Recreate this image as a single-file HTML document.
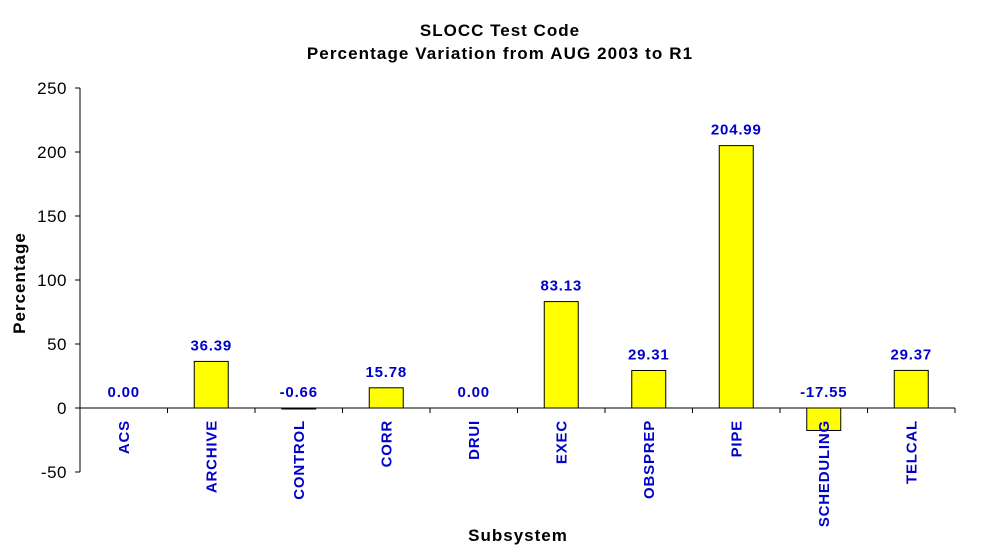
<!DOCTYPE html>
<html><head><meta charset="utf-8"><style>
body{margin:0;background:#fff;}
svg text{font-family:"Liberation Sans",Arial,sans-serif;}
</style></head><body>
<svg id="chart" width="1000" height="551" xmlns="http://www.w3.org/2000/svg">
<text x="500" y="36" text-anchor="middle" font-size="17" font-weight="bold" letter-spacing="1">SLOCC Test Code</text>
<text x="500" y="59" text-anchor="middle" font-size="17" font-weight="bold" letter-spacing="1.1">Percentage Variation from AUG 2003 to R1</text>
<text transform="translate(25,283) rotate(-90)" text-anchor="middle" font-size="17" font-weight="bold" letter-spacing="1">Percentage</text>
<text x="518" y="541" text-anchor="middle" font-size="17" font-weight="bold" letter-spacing="1">Subsystem</text>
<g id="plot"></g>
</svg>
<script>
const categories=["ACS","ARCHIVE","CONTROL","CORR","DRUI","EXEC","OBSPREP","PIPE","SCHEDULING","TELCAL"];
const values=[0.00,36.39,-0.66,15.78,0.00,83.13,29.31,204.99,-17.55,29.37];
const valueLabels=["0.00","36.39","-0.66","15.78","0.00","83.13","29.31","204.99","-17.55","29.37"];
const yTicks=[-50,0,50,100,150,200,250];
const NS="http://www.w3.org/2000/svg";
const X0=80,X1=955,Y0=408,PX_PER=64/50;
const bw=(X1-X0)/categories.length;
function y(v){return Y0-v*PX_PER;}
function x(i){return X0+bw*i;}
const g=document.getElementById('plot');
function mk(t,a){const e=document.createElementNS(NS,t);for(const k in a)e.setAttribute(k,a[k]);g.appendChild(e);return e;}
let ax=mk('line',{x1:X0,y1:y(250),x2:X0,y2:y(-50),stroke:'#000','stroke-width':1});


yTicks.forEach(t=>{
 const l=mk('line',{x1:X0-5,y1:y(t),x2:X0,y2:y(t),stroke:'#000'});
 
 
 const tx=mk('text',{x:X0-13,y:y(t)+6,'text-anchor':'end','font-size':17,'letter-spacing':0.5});
 tx.textContent=t;
 
 
});
values.forEach((v,i)=>{
 const cx=x(i)+bw/2;
 if(v!==0){
  const r=mk('rect',{x:cx-17,y:Math.min(y(v),Y0),width:34,height:Math.max(Math.abs(y(v)-Y0),1),fill:'#ffff00',stroke:'#000','stroke-width':1});
  
  
 }
 const top=v>=0?y(v):Y0;
 const vl=mk('text',{x:cx,y:top-11,'text-anchor':'middle','font-size':15,'font-weight':'bold','letter-spacing':0.8,fill:'#0000cc'});
 vl.textContent=valueLabels[i];
 
 
});
let xa=mk('line',{x1:X0,y1:Y0,x2:X1,y2:Y0,stroke:'#000'});


for(let i=0;i<=categories.length;i++){
 const t=mk('line',{x1:x(i),y1:Y0,x2:x(i),y2:Y0+5,stroke:'#000'});
 
 
}
categories.forEach((c,i)=>{
 const cx=x(i)+bw/2;
 const t=mk('text',{transform:`translate(${cx+5},420) rotate(-90)`,'text-anchor':'end','font-size':15,'font-weight':'bold','letter-spacing':0.8,fill:'#0000cc'});
 t.textContent=c;
 
 
});
</script>
</body></html>
